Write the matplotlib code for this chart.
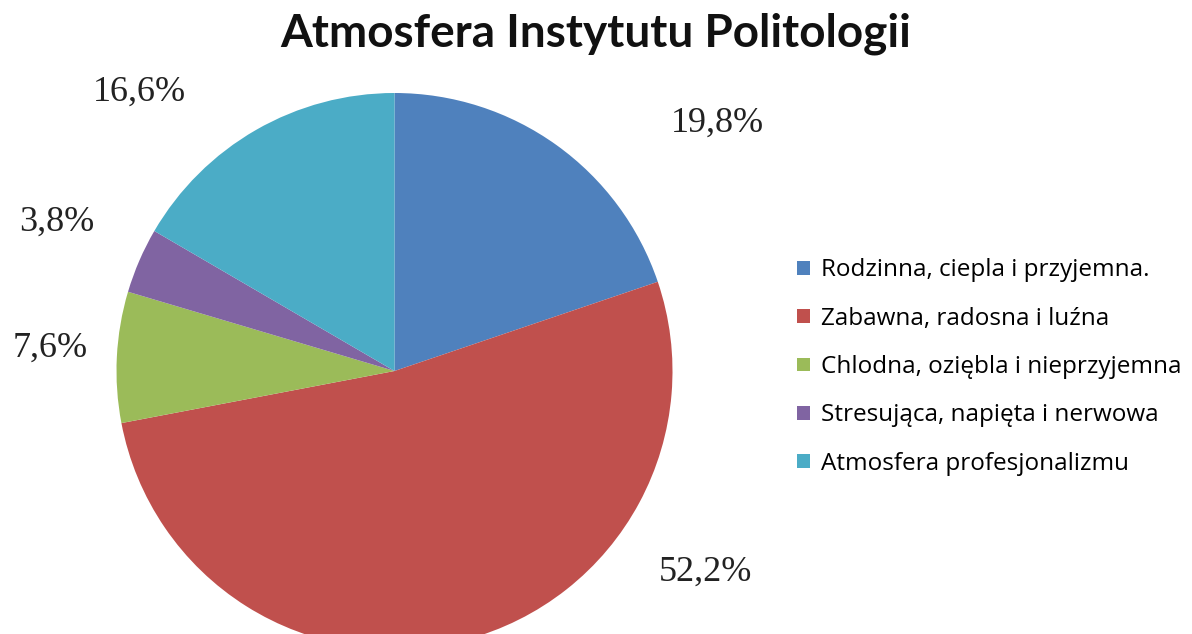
import numpy as np
import matplotlib.pyplot as plt

categorie = ["Rodzinna, ciepla i przyjemna.",
             "Zabawna, radosna i luźna",
             "Chlodna, oziębla i nieprzyjemna",
             "Stresująca, napięta i nerwowa",
             "Atmosfera profesjonalizmu"]
procenty = [19.8, 52.2, 7.6, 3.8, 16.6]
kolory = ["#4F81BD", "#C0504D", "#9BBB59", "#8064A2", "#4BACC6"]

# polozenie etykiet: kat (stopnie) i odleglosc od srodka w promieniach
etyk_kat = [37.5, -33.0, 176.2, 156.2, 132.4]
etyk_odl = [1.466, 1.332, 1.242, 1.327, 1.358]

def main():
    fig = plt.figure(figsize=(11.92, 6.34), dpi=100)
    ax = fig.add_axes([0, 0, 1, 1])

    cx, cy, r = 394.5, 263, 278
    wedges, _ = ax.pie(procenty, colors=kolory, startangle=90, counterclock=False,
                       center=(cx, cy), radius=r, frame=True,
                       wedgeprops=dict(linewidth=0))
    ax.set_xlim(0, 1192)
    ax.set_ylim(0, 634)
    ax.set_aspect("equal")
    ax.axis("off")

    for p, kat, odl in zip(procenty, etyk_kat, etyk_odl):
        a = np.radians(kat)
        ax.text(cx + odl * r * np.cos(a), cy + odl * r * np.sin(a),
                f"{p:.1f}%".replace(".", ","), ha="center", va="center",
                fontsize=26, family="Liberation Serif", color="#222222")

    fig.text(0.5, 0.946, "Atmosfera Instytutu Politologii", ha="center", va="center",
             fontsize=33, fontweight="bold", family="Lato", color="#111111")

    ax.legend(wedges, categorie, loc="center left", bbox_to_anchor=(0.669, 0.421),
              frameon=False, prop=dict(family="Open Sans", size=17.5),
              handlelength=0.5, handleheight=0.5, handletextpad=0.45,
              labelspacing=1.0, borderaxespad=0, borderpad=0)

    fig.savefig("out.png", dpi=100)

if __name__ == "__main__":
    main()
